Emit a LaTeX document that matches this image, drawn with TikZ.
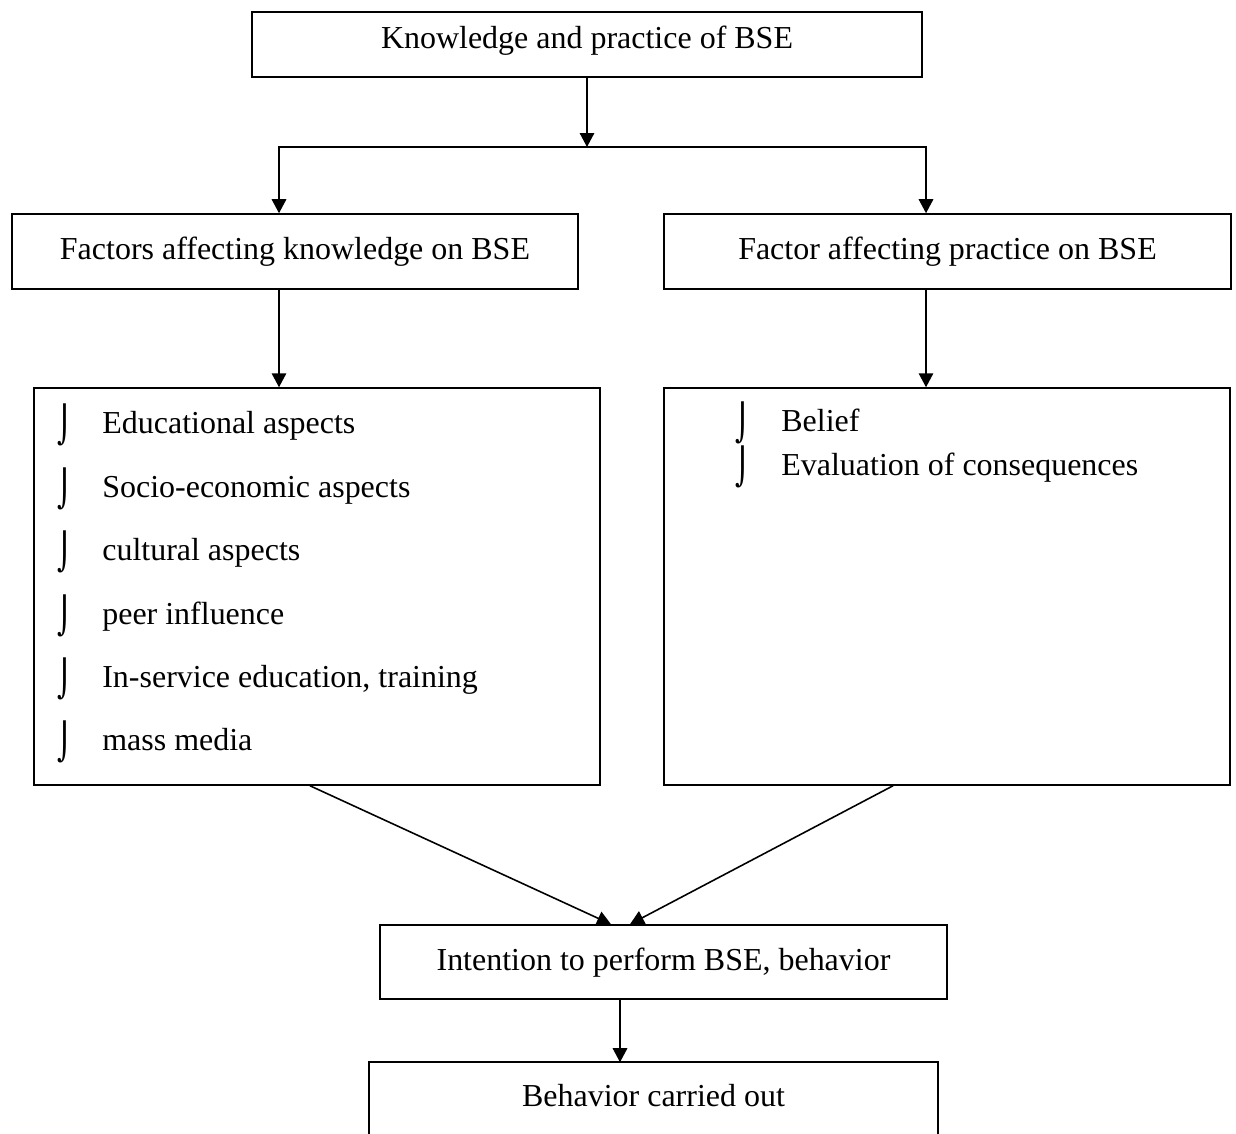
\documentclass[tikz,border=0pt]{standalone}
\usepackage{fontspec}
\setmainfont{Liberation Serif}
\newfontfamily\hookfont{DejaVu Sans}
\usepackage{tikz}
\usetikzlibrary{arrows.meta, positioning, calc}
\newcommand{\hookbul}{\raisebox{-2.5pt}{\scalebox{0.9}[1.12]{\hookfont ⌡}}}

\begin{document}
\begin{tikzpicture}[x=0.02cm, y=-0.02cm,
  fbox/.style={draw, line width=0.9pt, align=center, font=\fontsize{18.2}{21}\selectfont, inner sep=0pt, text height=0.46cm, text depth=0.14cm},
  item/.style={anchor=base west, inner sep=0pt, font=\fontsize{18.2}{21}\selectfont},
  arr/.style={-{Triangle[length=0.28cm, width=0.29cm]}, line width=0.9pt}
]
  \useasboundingbox (0,0) rectangle (1236,1133);

  % Top of the chart
  \node[fbox, minimum width=13.4cm, minimum height=1.3cm, text depth=0.3cm] (kp) at (587, 44.5) {Knowledge and practice of BSE};
  \coordinate (split) at (587, 147);

  \node[fbox, minimum width=11.32cm, minimum height=1.5cm] (know) at (295, 251.5) {Factors affecting knowledge on BSE};
  \node[fbox, minimum width=11.34cm, minimum height=1.5cm] (prac) at (947.5, 251.5) {Factor affecting practice on BSE};

  \draw[arr] (kp.south) -- (split);
  \draw[arr] (split) -| ([xshift=-0.32cm]know.north);
  \draw[arr] (split) -| ([xshift=-0.43cm]prac.north);

  % Factor lists
  \node[fbox, minimum width=11.32cm, minimum height=7.94cm] (klist) at (317, 586.5) {};
  \node[fbox, minimum width=11.32cm, minimum height=7.94cm] (plist) at (947, 586.5) {};

  \draw[arr] ([xshift=-0.32cm]know.south) -- ([xshift=-0.32cm]know.south |- klist.north);
  \draw[arr] ([xshift=-0.43cm]prac.south) -- ([xshift=-0.43cm]prac.south |- plist.north);

  \node[item] (k1) at (57, 433) {\makebox[0.9cm][l]{\hookbul}Educational aspects};
  \node[item] (k2) at (57, 497) {\makebox[0.9cm][l]{\hookbul}Socio-economic aspects};
  \node[item] (k3) at (57, 560) {\makebox[0.9cm][l]{\hookbul}cultural aspects};
  \node[item] (k4) at (57, 624) {\makebox[0.9cm][l]{\hookbul}peer influence};
  \node[item] (k5) at (57, 687) {\makebox[0.9cm][l]{\hookbul}In-service education, training};
  \node[item] (k6) at (57, 750) {\makebox[0.9cm][l]{\hookbul}mass media};

  \node[item] (p1) at (735, 431) {\makebox[0.92cm][l]{\hookbul}Belief};
  \node[item] (p2) at (735, 475) {\makebox[0.92cm][l]{\hookbul}Evaluation of consequences};

  % Intention and behaviour
  \node[fbox, minimum width=11.34cm, minimum height=1.48cm] (intent) at (663.5, 962) {Intention to perform BSE, behavior};
  \node[fbox, draw=none, minimum width=11.34cm, minimum height=1.4cm] (behav) at (653.5, 1098) {Behavior carried out};
  \draw[line width=0.9pt] (behav.south west) -- (behav.north west) -- (behav.north east) -- (behav.south east);

  \draw[arr] ([xshift=-0.14cm]klist.south) -- ([xshift=-1.05cm]intent.north);
  \draw[arr] ([xshift=-1.08cm]plist.south) -- ([xshift=-0.67cm]intent.north);
  \draw[arr] ([xshift=-0.87cm]intent.south) -- ([xshift=-0.87cm]intent.south |- behav.north);
\end{tikzpicture}
\end{document}
